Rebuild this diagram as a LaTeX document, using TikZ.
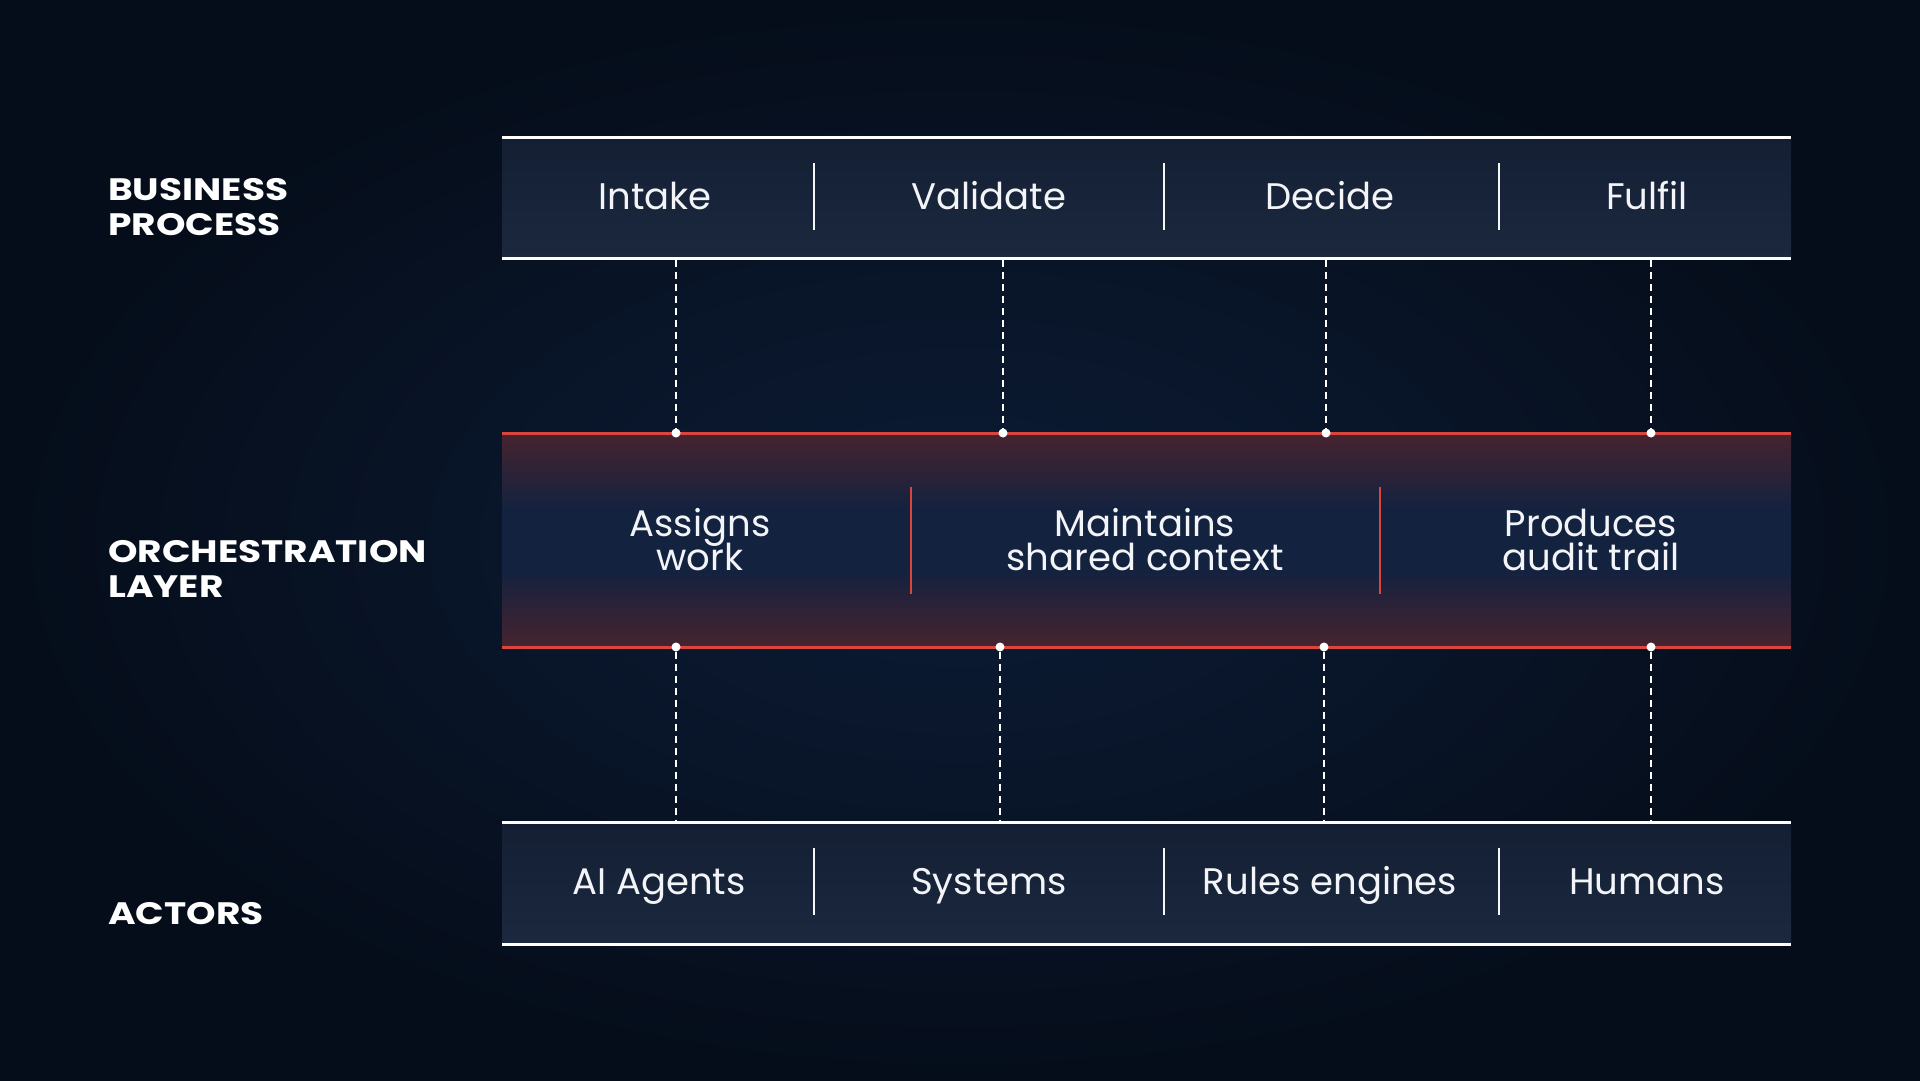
\documentclass[tikz,border=0pt]{standalone}
\usepackage{fontspec}
\setmainfont{Poppins}
\newfontfamily\labelfont[FakeStretch=1.21]{Poppins}
\usetikzlibrary{shadings}
\definecolor{bgdark}{HTML}{050D1A}
\definecolor{bgmid}{HTML}{0C1C36}
\definecolor{bandtop}{HTML}{141F34}
\definecolor{bandbot}{HTML}{1B283D}
\definecolor{orchred}{HTML}{47232F}
\definecolor{orchmid}{HTML}{13223F}
\definecolor{redline}{HTML}{D9463E}
\definecolor{txt}{HTML}{F2F4F7}
\newcommand\myBandFont{\fontsize{37}{34}\selectfont\lineskiplimit=-30pt\relax}
\newcommand\myLabelFont{\labelfont\fontsize{31}{35}\bfseries\selectfont\lineskiplimit=-30pt\relax}
\pgfdeclareverticalshading{orchshade}{100bp}{color(0bp)=(orchred); color(25bp)=(orchred); color(43bp)=(orchmid); color(57bp)=(orchmid); color(75bp)=(orchred); color(100bp)=(orchred)}
\tikzset{
  bandtext/.style={text=txt, font=\myBandFont, align=center, inner sep=0pt, anchor=base},
  sidelabel/.style={text=white, font=\myLabelFont, align=left, anchor=base west, inner sep=0pt},
  divider/.style={draw=txt!85, line width=2pt},
  reddivider/.style={draw=redline, line width=2pt},
  bandline/.style={draw=white, line width=3pt},
  redband/.style={draw=redline, line width=3pt},
  dashconn/.style={draw=white!90, line width=1.6pt, dash pattern=on 7pt off 5pt},
  dotnode/.style={circle, fill=white, inner sep=0pt, minimum size=9pt},
}
\begin{document}
\begin{tikzpicture}[x=1pt,y=-1pt]
\useasboundingbox (0,0) rectangle (1920,1081);
% background
\fill[bgdark] (0,0) rectangle (1920,1081);
\shade[inner color=bgmid, outer color=bgdark] (0,0) rectangle (1920,1081);
% top band
\shade[top color=bandtop, bottom color=bandbot] (502,137) rectangle (1791,258);
\draw[bandline] (502,137) -- (1791,137);
\draw[bandline] (502,258) -- (1791,258);
% bottom band
\shade[top color=bandtop, bottom color=bandbot] (502,822) rectangle (1791,944);
\draw[bandline] (502,822) -- (1791,822);
\draw[bandline] (502,944) -- (1791,944);
% orchestration band
\shade[shading=orchshade] (502,433) rectangle (1791,647);
\draw[redband] (502,433) -- (1791,433);
\draw[redband] (502,647) -- (1791,647);
% side labels (base = last line)
\node[sidelabel] (lbp) at (108,235) {BUSINESS\\PROCESS};
\node[sidelabel] (lol) at (108,597) {ORCHESTRATION\\LAYER};
\node[sidelabel] (lac) at (108,924) {ACTORS};
% top band text
\node[bandtext] (intake) at (655,209) {Intake};
\node[bandtext] (validate) at (989,209) {Validate};
\node[bandtext] (decide) at (1330,209) {Decide};
\node[bandtext] (fulfil) at (1647,209) {Fulfil};
\draw[divider] (814,163) -- (814,230);
\draw[divider] (1164,163) -- (1164,230);
\draw[divider] (1499,163) -- (1499,230);
% bottom band text
\node[bandtext] (ai) at (659,894) {AI Agents};
\node[bandtext] (sys) at (989,894) {Systems};
\node[bandtext] (rules) at (1330,894) {Rules engines};
\node[bandtext] (hum) at (1647,894) {Humans};
\draw[divider] (814,848) -- (814,915);
\draw[divider] (1164,848) -- (1164,915);
\draw[divider] (1499,848) -- (1499,915);
% orchestration text (base = last line)
\node[bandtext] (assign) at (700,570) {Assigns\\work};
\node[bandtext] (maint) at (1145,570) {Maintains\\shared context};
\node[bandtext] (prod) at (1591,570) {Produces\\audit trail};
\draw[reddivider] (911,487) -- (911,594);
\draw[reddivider] (1380,487) -- (1380,594);
% connector anchors
\coordinate (ta1) at (676,259.5);
\coordinate (ta2) at (1003,259.5);
\coordinate (ta3) at (1326,259.5);
\coordinate (ta4) at (1651,259.5);
\node[dotnode] (ua1) at (676,433) {};
\node[dotnode] (ua2) at (1003,433) {};
\node[dotnode] (ua3) at (1326,433) {};
\node[dotnode] (ua4) at (1651,433) {};
\node[dotnode] (la1) at (676,647) {};
\node[dotnode] (la2) at (1000,647) {};
\node[dotnode] (la3) at (1324,647) {};
\node[dotnode] (la4) at (1651,647) {};
\coordinate (ba1) at (676,820.5);
\coordinate (ba2) at (1000,820.5);
\coordinate (ba3) at (1324,820.5);
\coordinate (ba4) at (1651,820.5);
\foreach \i in {1,2,3,4}{
  \draw[dashconn] (ta\i) -- (ua\i.north);
  \draw[dashconn] (la\i.south) -- (ba\i);
}
\end{tikzpicture}
\end{document}
